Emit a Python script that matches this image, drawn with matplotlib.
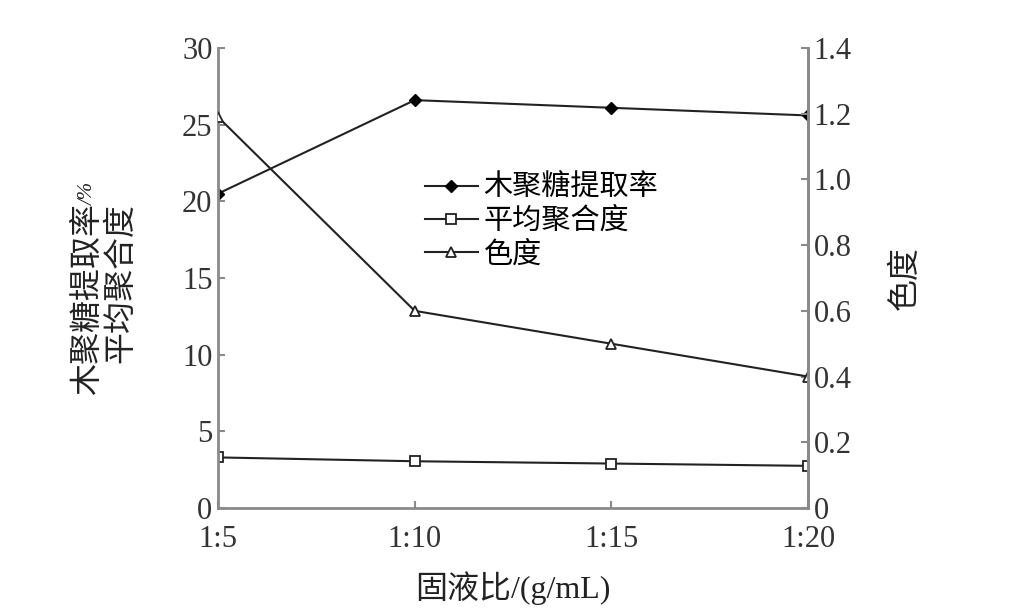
import matplotlib
matplotlib.use('Agg')
import matplotlib.pyplot as plt
from matplotlib.ticker import FuncFormatter

# 西文用衬线体, 中文回落到思源黑体
plt.rcParams['font.family'] = ['Liberation Serif', 'Noto Sans CJK SC']

# 数据
categories = ["1:5", "1:10", "1:15", "1:20"]
extraction_rate = [20.5, 26.6, 26.1, 25.6]     # 木聚糖提取率 /%
avg_dp = [3.3, 3.05, 2.9, 2.75]                # 平均聚合度
chroma = [1.19, 0.60, 0.50, 0.40]              # 色度 (右轴)

SPINE = '#8a8a8a'
LINE = '#222222'
TXT = '#222222'

fig = plt.figure(figsize=(10.3, 6.16), dpi=100)
ax = fig.add_axes([0.2117, 0.1753, 0.5728, 0.7468])
ax2 = ax.twinx()

x = range(len(categories))
l1, = ax.plot(x, extraction_rate, color=LINE, lw=1.5, marker='D', ms=6.5,
              mfc='black', mec='black', label='木聚糖提取率')
l2, = ax.plot(x, avg_dp, color=LINE, lw=1.5, marker='s', ms=7,
              mfc='white', mec=LINE, mew=1.3, label='平均聚合度')
l3, = ax2.plot(x, chroma, color=LINE, lw=1.5, marker='^', ms=7,
               mfc='white', mec=LINE, mew=1.3, label='色度')

ax.set_xlim(0, 3)
ax.set_ylim(0, 30)
ax2.set_ylim(0, 1.4)
ax.set_xticks(list(x))
ax.set_xticklabels(categories)
ax.set_yticks(range(0, 31, 5))
ax2.set_yticks([0, 0.2, 0.4, 0.6, 0.8, 1.0, 1.2, 1.4])
ax2.yaxis.set_major_formatter(FuncFormatter(lambda v, p: '0' if v == 0 else f'{v:.1f}'))

for a in (ax, ax2):
    a.spines['top'].set_visible(False)
    for s in ('left', 'right', 'bottom'):
        a.spines[s].set_color(SPINE)
        a.spines[s].set_linewidth(2)
    a.tick_params(direction='in', length=5, width=1.5, color=SPINE,
                  labelsize=22, labelcolor='#333333', pad=4)
ax2.spines['left'].set_visible(False)
ax2.spines['bottom'].set_visible(False)
ax.tick_params(axis='x', pad=12)

# 轴标题
fig.text(0.0855, 1 - 395 / 616, '木聚糖提取率', rotation=90, rotation_mode='anchor',
         ha='left', va='center', fontsize=23, color=TXT)
fig.text(0.0855, 1 - 205 / 616, '/%', rotation=90, rotation_mode='anchor',
         ha='left', va='center', fontsize=15, style='italic', color=TXT)
fig.text(0.118, 1 - 283 / 616, '平均聚合度', rotation=90, ha='center', va='center',
         fontsize=23, color=TXT)
fig.text(0.879, 1 - 278 / 616, '色度', rotation=90, ha='center', va='center',
         fontsize=23, color=TXT)
fig.text(0.498, 1 - 588 / 616, '固液比/(g/mL)', ha='center', va='center',
         fontsize=23, color=TXT)

leg = ax2.legend(handles=[l1, l2, l3], loc='upper left',
                 bbox_to_anchor=(425 / 1030, 1 - 175 / 616),
                 bbox_transform=fig.transFigure, frameon=False,
                 prop={'size': 21}, handlelength=1.8, borderpad=0,
                 handletextpad=0.2, labelspacing=0.2, borderaxespad=0)

fig.savefig('out.png', dpi=100)
